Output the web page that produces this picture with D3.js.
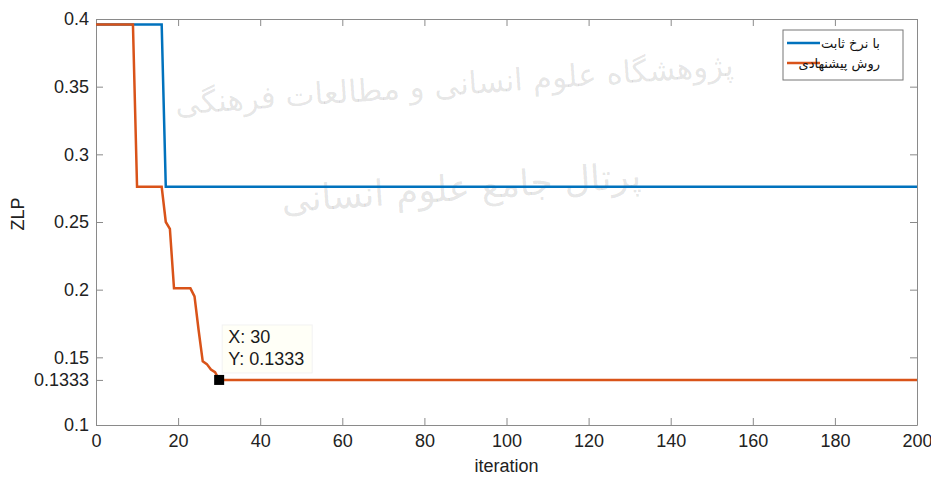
<!DOCTYPE html>
<html>
<head>
<meta charset="utf-8">
<script src="https://cdn.jsdelivr.net/npm/d3@7"></script>
<style>
  body { margin: 0; background: #fff; }
  svg { display: block; font-family: 'Liberation Sans', Arial, sans-serif; }
</style>
</head>
<body>
<svg id="chart" width="931" height="477"></svg>
<script>
// series: [iteration, ZLP] change points
var fixedRate = [
  [0, 0.396], [16, 0.396], [17, 0.276], [200, 0.276]
];
var proposed = [
  [0, 0.396], [9, 0.396], [10, 0.276], [16, 0.276], [17, 0.25], [18, 0.245],
  [19, 0.201], [23, 0.201], [24, 0.195], [25, 0.17], [26, 0.147], [27, 0.145],
  [28, 0.141], [29, 0.139], [30, 0.1333], [200, 0.1333]
];
var xTicks = [0, 20, 40, 60, 80, 100, 120, 140, 160, 180, 200];
var yTicks = [0.1, 0.1333, 0.15, 0.2, 0.25, 0.3, 0.35, 0.4];
var legendNames = ['با نرخ ثابت', 'روش پیشنهادی'];
var tipPoint = [30, 0.1333];
var watermark = ['پژوهشگاه علوم انسانی و مطالعات فرهنگی', 'پرتال جامع علوم انسانی'];

var colors = ['#0072BD', '#D95319'];
var plotLeft = 96, plotRight = 917, plotTop = 19, plotBottom = 425;

var svg = d3.select('#chart');
var x = d3.scaleLinear().domain([0, 200]).range([plotLeft, plotRight]);
var y = d3.scaleLinear().domain([0.1, 0.4]).range([plotBottom, plotTop]);

// faint watermark behind the plot
var marks = [[455, 95, 31], [462, 200, 36]];
svg.append('g')
  .attr('font-family', 'DejaVu Sans')
  .attr('fill', '#000')
  .attr('fill-opacity', 0.11)
  .attr('text-anchor', 'middle')
  .selectAll('text')
  .data(watermark)
  .enter()
  .append('text')
  .attr('x', (d, i) => marks[i][0])
  .attr('y', (d, i) => marks[i][1])
  .attr('font-size', (d, i) => marks[i][2])
  .attr('transform', (d, i) => `rotate(-4 ${marks[i][0]} ${marks[i][1]})`)
  .text(d => d);

var axisColor = '#8a8a8a';
var tickLen = 7;

function styleAxis(g, withText) {
  g.select('.domain').attr('stroke', axisColor);
  g.selectAll('.tick line').attr('stroke', axisColor);
  if (withText) {
    g.selectAll('.tick text')
      .attr('font-size', 18)
      .attr('fill', '#222')
      .attr('font-family', 'Liberation Sans');
  }
}

// bottom and top axes (ticks pointing inward)
svg.append('g')
  .attr('transform', `translate(0,${plotBottom})`)
  .call(d3.axisBottom(x).tickValues(xTicks).tickSizeInner(-tickLen).tickSizeOuter(0).tickPadding(9))
  .call(g => styleAxis(g, true));

svg.append('g')
  .attr('transform', `translate(0,${plotTop})`)
  .call(d3.axisTop(x).tickValues(xTicks).tickSizeInner(-tickLen).tickSizeOuter(0).tickFormat(''))
  .call(g => styleAxis(g, false));

// left and right axes
svg.append('g')
  .attr('transform', `translate(${plotLeft},0)`)
  .call(d3.axisLeft(y).tickValues(yTicks).tickSizeInner(-tickLen).tickSizeOuter(0)
    .tickPadding(7).tickFormat(d => d === 0.1333 ? '0.1333' : String(+d.toFixed(2))))
  .call(g => styleAxis(g, true));

svg.append('g')
  .attr('transform', `translate(${plotRight},0)`)
  .call(d3.axisRight(y).tickValues(yTicks).tickSizeInner(-tickLen).tickSizeOuter(0).tickFormat(''))
  .call(g => styleAxis(g, false));

// axis titles
svg.append('text')
  .attr('x', (plotLeft + plotRight) / 2)
  .attr('y', 472)
  .attr('text-anchor', 'middle')
  .attr('font-size', 18)
  .attr('fill', '#222')
  .text('iteration');

svg.append('text')
  .attr('transform', 'translate(24,214) rotate(-90)')
  .attr('text-anchor', 'middle')
  .attr('font-size', 18)
  .attr('fill', '#222')
  .text('ZLP');

// lines
var line = d3.line().x(d => x(d[0])).y(d => y(d[1]));
svg.selectAll('.series')
  .data([fixedRate, proposed])
  .enter()
  .append('path')
  .classed('series', true)
  .attr('d', line)
  .attr('fill', 'none')
  .attr('stroke', (d, i) => colors[i])
  .attr('stroke-width', 2.5);

// data tip
var tip = svg.append('g');
tip.append('rect')
  .attr('x', x(tipPoint[0]) + 3)
  .attr('y', y(tipPoint[1]) - 55)
  .attr('width', 90)
  .attr('height', 48)
  .attr('fill', '#fffff7')
  .attr('stroke', '#f2f2f2');
tip.append('rect')
  .attr('x', x(tipPoint[0]) - 5)
  .attr('y', y(tipPoint[1]) - 5)
  .attr('width', 10)
  .attr('height', 10)
  .attr('fill', '#000');
tip.selectAll('.tip-text')
  .data(['X: ' + tipPoint[0], 'Y: ' + tipPoint[1]])
  .enter()
  .append('text')
  .classed('tip-text', true)
  .attr('x', x(tipPoint[0]) + 9)
  .attr('y', (d, i) => y(tipPoint[1]) - 37 + i * 22)
  .attr('font-size', 18)
  .attr('fill', '#1a1a1a')
  .text(d => d);

// legend
var legend = svg.append('g');
legend.append('rect')
  .attr('x', 783)
  .attr('y', 30)
  .attr('width', 120)
  .attr('height', 50)
  .attr('fill', '#fff')
  .attr('stroke', '#777');
var rows = legend.selectAll('.row')
  .data(legendNames)
  .enter()
  .append('g')
  .attr('transform', (d, i) => `translate(0,${43 + i * 20})`);
rows.append('line')
  .attr('x1', 787)
  .attr('x2', 820)
  .attr('stroke', (d, i) => colors[i])
  .attr('stroke-width', 2.5);
rows.append('text')
  .attr('x', 880)
  .attr('y', 5)
  .attr('text-anchor', 'end')
  .attr('font-family', 'DejaVu Sans')
  .attr('font-size', 13)
  .attr('fill', '#111')
  .text(d => d);
</script>
</body>
</html>
